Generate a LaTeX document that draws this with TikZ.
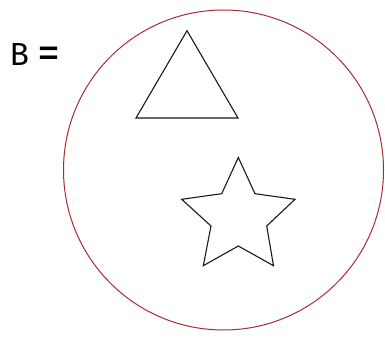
\documentclass[tikz,border=0pt]{standalone}
\usepackage{fontspec}
\setmainfont{Fira Sans}
\definecolor{circred}{RGB}{165,45,50}
\begin{document}
\begin{tikzpicture}[x=1pt,y=-1pt,
  outline/.style={draw=black!90,line width=1.1pt,line join=miter},
  setcircle/.style={draw=circred,line width=1pt}]
\useasboundingbox (0,0) rectangle (385,339);
\node[anchor=base west,inner sep=0pt,font=\fontsize{32}{36}\selectfont] (lbl) at (9.5,66) {B};
\node[anchor=center,inner sep=0pt,font=\fontsize{46}{50}\selectfont] (eq) at (49,58) {=};
\draw[setcircle] (223.5,170) circle[radius=160];
\draw[outline] (187,30.7) -- (238,118) -- (136,118) -- cycle;
\draw[outline] (238.3,157.5) -- (255,193.7) -- (295,199.3) -- (266.7,226) -- (273.5,265.7)
  -- (238.3,246) -- (203.3,265.7) -- (211,226) -- (181.7,199.3) -- (221.7,193.7) -- cycle;
\end{tikzpicture}
\end{document}
